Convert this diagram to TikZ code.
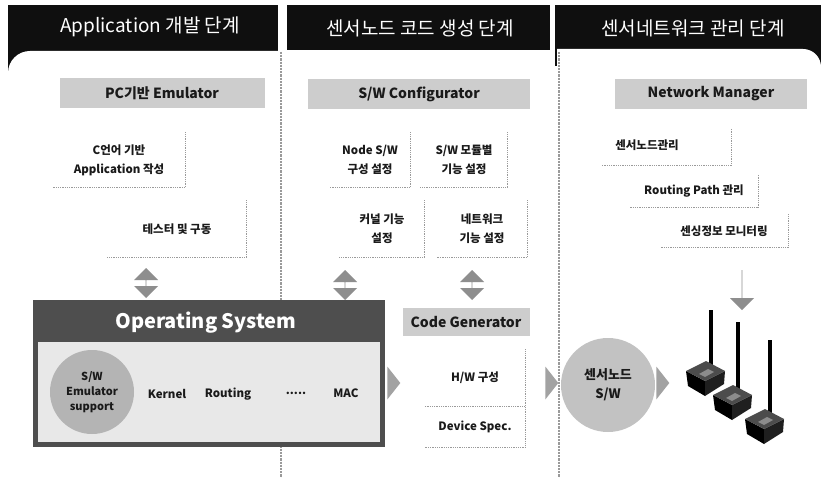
\documentclass[tikz,border=0pt]{standalone}
\usepackage{fontspec}
\setmainfont{Noto Sans CJK KR}
\usetikzlibrary{shapes.arrows,shapes.geometric}
\definecolor{hdrblack}{HTML}{0F0F0F}
\definecolor{subfill}{HTML}{CDCDCD}
\definecolor{inktext}{HTML}{1A1A1A}
\definecolor{osdark}{HTML}{4E4E4E}
\definecolor{osinner}{HTML}{E8E8E8}
\definecolor{emucirc}{HTML}{B4B4B4}
\definecolor{nodecirc}{HTML}{C2C2C2}
\definecolor{arrowgrey}{HTML}{8E8E8E}
\definecolor{chevgrey}{HTML}{A2A2A2}
\definecolor{edgegrey}{HTML}{9A9A9A}
\tikzset{
  hdrtext/.style={text=white,inner sep=0pt,font=\fontsize{19}{21}\selectfont},
  subhdr/.style={fill=subfill,inner sep=0pt,text=inktext,font=\bfseries\fontsize{14}{16}\selectfont},
  body/.style={inner sep=0pt,align=center,text=inktext,font=\bfseries\fontsize{11.5}{19}\selectfont},
  stepbox/.style={body},
  boxedge/.style={draw=edgegrey,densely dotted,line width=0.8pt},
  colsep/.style={draw=edgegrey,densely dotted,line width=2.2pt},
  updown/.style={double arrow,shape border rotate=90,fill=arrowgrey,draw=none,
    minimum height=30pt,minimum width=24pt,double arrow head extend=5pt,inner sep=0pt},
  downarrow/.style={single arrow,shape border rotate=270,fill=arrowgrey,draw=none,
    minimum height=40pt,minimum width=24pt,single arrow head extend=5pt,inner sep=0pt},
  chevron/.style={isosceles triangle,isosceles triangle apex angle=100,
    isosceles triangle stretches,fill=chevgrey,
    draw=none,minimum height=13pt,minimum width=33pt,inner sep=0pt},
  sensorbox/.pic={
    % antenna
    \fill[black] (3.5,2) rectangle (7.5,-#1);
    % left face, right face, top face of the node casing
    \fill[black] (-19,-1) -- (0,9) -- (0,24) -- (-17,14) -- cycle;
    \fill[black!88] (0,9) -- (20,-1) -- (19,12) -- (0,24) -- cycle;
    \fill[black!70] (-19,-1) -- (1,-11) -- (20,-1) -- (0,9) -- cycle;
    \fill[black!45] (-6,2) -- (3,-3) -- (9,0) -- (0,5) -- cycle;
  }
}
\begin{document}
\begin{tikzpicture}[x=1pt,y=-1pt]
\useasboundingbox (0,0) rectangle (821,478);
\fill[white] (0,0) rectangle (821,478);

% ---- column headers and panels
\fill[hdrblack] (8,5) rectangle (278,74);
\fill[white] (8,478) [rounded corners=22pt] -- (8,51) [sharp corners] -- (278,51) -- (278,478) -- cycle;
\fill[hdrblack] (287,5) rectangle (550,50);
\fill[hdrblack] (555,5) rectangle (821,66);
\fill[white] (557,478) -- (557,49) [rounded corners=18pt] -- (821,49) [sharp corners] -- (821,478) -- cycle;

\draw[colsep] (281,52) -- (281,478);
\draw[colsep] (559,52) -- (559,478);

\node[hdrtext] (h1) at (150,27) {Application 개발 단계};
\node[hdrtext] (h2) at (420,28) {센서노드 코드 생성 단계};
\node[hdrtext] (h3) at (693,28) {센서네트워크 관리 단계};

% ---- sub-headers
\node[subhdr,minimum width=205pt,minimum height=30pt] (pcemu) at (162,93) {PC기반 Emulator};
\node[subhdr,minimum width=222pt,minimum height=30pt] (swconf) at (419,94) {S/W Configurator};
\node[subhdr,minimum width=192pt,minimum height=30pt] (netmgr) at (711,94) {Network Manager};

% ---- column 1 steps
\node[stepbox,minimum width=132pt,minimum height=55pt] (capp) at (119,160) {C언어 기반\\Application 작성};
\node[stepbox,minimum width=139pt,minimum height=57pt] (test) at (177,229) {테스터 및 구동};

% ---- column 2 steps
\node[stepbox,minimum width=80pt,minimum height=55pt] (nodesw) at (370,160) {Node S/W\\구성 설정};
\node[stepbox,minimum width=87pt,minimum height=55pt] (modsw) at (464,160) {S/W 모듈별\\기능 설정};
\node[stepbox,minimum width=85pt,minimum height=57pt] (kern) at (382,229) {커널 기능\\설정};
\node[stepbox,minimum width=90pt,minimum height=57pt] (netf) at (482,229) {네트워크\\기능 설정};

% ---- column 3 steps
\node[minimum width=129pt,minimum height=36pt,inner sep=0pt] (mgbox) at (667,147) {};
\node[body] (mgtext) at (647,145) {센서노드관리};
\node[stepbox,minimum width=128pt,minimum height=32pt] (route) at (694,191) {Routing Path 관리};
\node[stepbox,minimum width=128pt,minimum height=33pt] (sense) at (724,231) {센싱정보 모니터링};

\foreach \b in {capp,test,nodesw,modsw,kern,netf,mgbox,route,sense}
  \draw[boxedge] (\b.north east) -- (\b.south east) -- (\b.south west);

% ---- operating system frame
\fill[osdark] (33,300) rectangle (385,447);
\fill[osinner] (38,342) rectangle (380,442);
\node[text=white,inner sep=0pt,font=\bfseries\fontsize{20}{22}\selectfont] (ostitle) at (206,323) {Operating System};
\node[circle,fill=emucirc,minimum size=84pt,inner sep=0pt,align=center,text=inktext,
  font=\bfseries\fontsize{11}{15}\selectfont] (emu) at (92,392) {S/W\\Emulator\\support};
\node[body] (kernel) at (167,394) {Kernel};
\node[body] (routing) at (228,394) {Routing};
\node[body] (dots) at (296,393) {.....};
\node[body] (mac) at (346,393) {MAC};

% ---- code generator
\node[subhdr,minimum width=127pt,minimum height=28pt] (codegen) at (466,322) {Code Generator};
\node[stepbox,minimum width=100pt,minimum height=57pt] (hwconf) at (475,378) {H/W 구성};
\node[stepbox,minimum width=100pt,minimum height=40pt] (devspec) at (475,427) {Device Spec.};
\draw[boxedge] (hwconf.north east) -- (devspec.south east) -- (devspec.south west);
\draw[boxedge] (hwconf.south west) -- (hwconf.south east);

% ---- sensor node software
\node[circle,fill=nodecirc,minimum size=94pt,inner sep=0pt,align=center,text=inktext,
  font=\bfseries\fontsize{13}{19}\selectfont] (snsw) at (608,385) {센서노드\\S/W};
\node[chevron] (chev1) at (393,383) {};
\node[chevron] (chev2) at (551,383) {};
\node[chevron] (chev3) at (662,383) {};

% ---- arrows between stages
\node[updown] (a1) at (146,283) {};
\node[updown] (a2) at (345,285) {};
\node[updown] (a3) at (472,285) {};
\node[downarrow] (a4) at (742,290) {};

% ---- deployed sensor nodes
\pic at (705,372) {sensorbox=62};
\pic at (732,396) {sensorbox=74};
\pic at (764,420) {sensorbox=80};
\end{tikzpicture}
\end{document}
